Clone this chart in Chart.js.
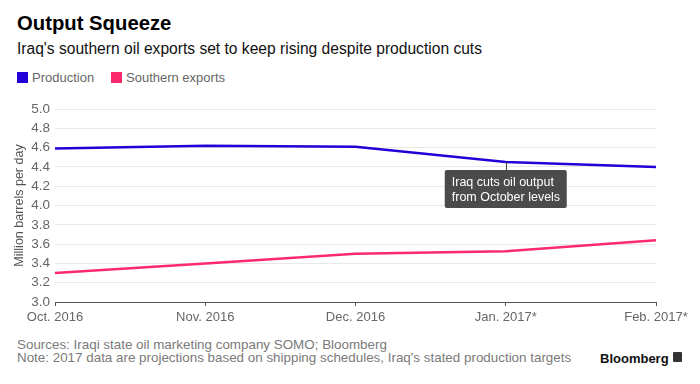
<!DOCTYPE html>
<html><head><meta charset="utf-8">
<script src="https://cdn.jsdelivr.net/npm/chart.js@4"></script>
<style>
html,body{margin:0;padding:0;background:#fff;width:700px;height:384px;overflow:hidden;font-family:"Liberation Sans",Arial,sans-serif}
#title{position:absolute;left:17px;top:12px;font-size:20.3px;font-weight:bold;color:#000}
#sub{position:absolute;left:17px;top:40px;font-size:15.6px;color:#111}
.leg{position:absolute;top:70px;font-size:13px;color:#666;white-space:nowrap}
.leg i{display:inline-block;width:11px;height:11px;vertical-align:-1px;margin-right:4px}
#foot{position:absolute;left:17px;top:339px;font-family:"Liberation Sans Narrow","Liberation Sans",Arial,sans-serif;font-size:13.4px;line-height:12.5px;color:#7a7a7a}
#logo{position:absolute;left:600px;top:351px;font-size:13px;font-weight:bold;color:#111;font-family:"Liberation Sans Narrow","Liberation Sans",Arial,sans-serif}
#icon{position:absolute;left:673px;top:352px;width:9px;height:10px;background:#333;border-radius:1px}
#wrap{position:absolute;left:0;top:95px;width:700px;height:237px}
</style></head><body>
<div id="title">Output Squeeze</div>
<div id="sub">Iraq's southern oil exports set to keep rising despite production cuts</div>
<div class="leg" style="left:17px"><i style="background:#2400d8"></i>Production</div>
<div class="leg" style="left:111px"><i style="background:#fb2a6c"></i>Southern exports</div>
<div id="wrap"><canvas id="c"></canvas></div>
<div id="foot">Sources: Iraqi state oil marketing company SOMO; Bloomberg<br>Note: 2017 data are projections based on shipping schedules, Iraq's stated production targets</div>
<div id="logo">Bloomberg</div><div id="icon"></div>
<script>
const categories = ["Oct. 2016","Nov. 2016","Dec. 2016","Jan. 2017*","Feb. 2017*"];
const production = [4.59, 4.62, 4.61, 4.45, 4.40];
const southernExports = [3.30, 3.40, 3.50, 3.525, 3.64];
const annotationIndex = 3;
const annotationLines = ["Iraq cuts oil output","from October levels"];

const narrow = '"Liberation Sans Narrow","Liberation Sans",Arial,sans-serif';

const annotationPlugin = {
  id:'anno',
  afterDatasetsDraw(chart){
    const ctx = chart.ctx;
    const meta = chart.getDatasetMeta(0);
    const pt = meta.data[annotationIndex];
    const x = pt.x, y = pt.y;
    ctx.save();
    ctx.strokeStyle = '#444';
    ctx.lineWidth = 1;
    ctx.beginPath(); ctx.moveTo(Math.round(x)+0.5, y); ctx.lineTo(Math.round(x)+0.5, y+9); ctx.stroke();
    const bx = x-61, by = y+8, bw = 122, bh = 38;
    ctx.fillStyle = '#4b4b4b';
    ctx.beginPath();
    if (ctx.roundRect) ctx.roundRect(bx,by,bw,bh,2); else ctx.rect(bx,by,bw,bh);
    ctx.fill();
    ctx.fillStyle = '#fff';
    ctx.font = '12.5px "Liberation Sans",Arial,sans-serif';
    ctx.textBaseline = 'middle';
    ctx.textAlign = 'left';
    ctx.fillText(annotationLines[0], bx+7, by+12);
    ctx.fillText(annotationLines[1], bx+7, by+27);
    ctx.restore();
  }
};

new Chart(document.getElementById('c'), {
  type:'line',
  data:{
    labels:categories,
    datasets:[
      {label:'Production', data:production, borderColor:'#2400d8', borderWidth:2.5, pointRadius:0, tension:0, fill:false},
      {label:'Southern exports', data:southernExports, borderColor:'#fb2a6c', borderWidth:2.5, pointRadius:0, tension:0, fill:false}
    ]
  },
  options:{
    responsive:true, maintainAspectRatio:false, animation:false,
    layout:{padding:{top:14,right:44,left:0,bottom:0}},
    plugins:{legend:{display:false}, tooltip:{enabled:false}},
    scales:{
      x:{
        offset:false,
        grid:{display:true, drawOnChartArea:false, drawTicks:true, tickLength:4, color:'#555'},
        border:{display:true, color:'#555', width:1},
        ticks:{color:'#666', font:{family:narrow, size:13}, maxRotation:0, autoSkip:false, padding:4},
        afterFit(s){ s.height = 30; }
      },
      y:{
        min:3.0, max:5.0,
        grid:{color:'#e8e8e8', drawTicks:false, lineWidth:1},
        border:{display:false},
        ticks:{stepSize:0.2, color:'#666', font:{family:narrow, size:13.5}, padding:5, callback:v=>v.toFixed(1)},
        title:{display:true, text:'Million barrels per day', color:'#555', font:{family:narrow, size:12.5}, padding:{top:12,bottom:0}},
        afterFit(s){ s.width = 55; }
      }
    }
  },
  plugins:[annotationPlugin]
});
</script>
</body></html>
